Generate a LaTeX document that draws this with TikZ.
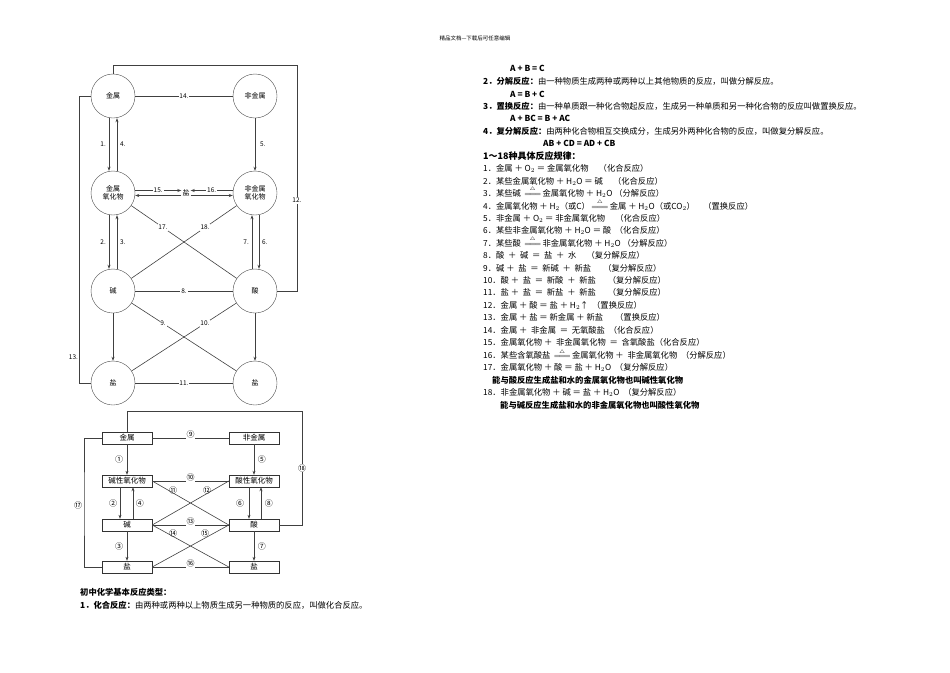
\documentclass[tikz,border=0pt]{standalone}
\usepackage{fontspec}
\setmainfont{Noto Sans CJK SC}
\usetikzlibrary{arrows.meta}
\newcommand{\heatq}{\,\smash{$\stackrel{\scriptscriptstyle\triangle}{=\!=\!=}$}\,}
\begin{document}
\begin{tikzpicture}[x=1pt,y=-1pt,
  circ/.style={circle,draw=black!70,minimum size=44pt,inner sep=0pt,font=\fontsize{7}{8}\selectfont,align=center},
  box/.style={rectangle,draw=black!80,minimum width=50pt,minimum height=12pt,inner sep=0pt,font=\fontsize{7.5}{8}\selectfont},
  ln/.style={draw=black!75,line width=0.6pt},
  arr/.style={ln,-{Stealth[length=4pt,width=3pt]}},
  lab/.style={fill=white,inner sep=0.8pt,font=\fontsize{6.5}{7}\selectfont},
  clab/.style={fill=white,inner sep=0.5pt,font=\fontsize{8}{8}\selectfont},
  txt/.style={anchor=west,inner sep=0pt,font=\fontsize{8.3}{8}\selectfont},
  btxt/.style={anchor=west,inner sep=0pt,font=\fontsize{8.3}{8}\selectfont\bfseries}]
\useasboundingbox (0,0) rectangle (950,672);
\node[font=\fontsize{5.5}{6}\selectfont] (hd) at (475,38) {精品文档---下载后可任意编辑};
% ---------- top diagram
\node[circ] (m) at (113,96) {金属};
\node[circ] (nm) at (255,96) {非金属};
\node[circ] (mo) at (113,193) {金属\\氧化物};
\node[circ] (nmo) at (255,193) {非金属\\氧化物};
\node[circ] (b) at (113,291) {碱};
\node[circ] (a) at (255,291) {酸};
\node[circ] (s1) at (113,383) {盐};
\node[circ] (s2) at (255,383) {盐};
\node[font=\fontsize{7}{8}\selectfont,inner sep=1pt] (sc) at (186,193) {盐};
\draw[ln] (m) -- node[lab]{14.} (nm);
\draw[ln] (b) -- node[lab]{8.} (a);
\draw[ln] (s1) -- node[lab]{11.} (s2);
\draw[arr] ([xshift=-4pt]m.south) -- node[lab,left=2pt,fill=none]{1.} ([xshift=-4pt]mo.north);
\draw[arr] ([xshift=4pt]mo.north) -- node[lab,right=2pt,fill=none]{4.} ([xshift=4pt]m.south);
\draw[arr] (nm) -- node[lab,right=4pt,fill=none]{5.} (nmo);
\draw[arr] ([xshift=-4pt]mo.south) -- node[lab,left=2pt,fill=none]{2.} ([xshift=-4pt]b.north);
\draw[arr] ([xshift=4pt]b.north) -- node[lab,right=2pt,fill=none]{3.} ([xshift=4pt]mo.south);
\draw[arr] ([xshift=-3pt]a.north) -- node[lab,left=2pt,fill=none]{7.} ([xshift=-3pt]nmo.south);
\draw[arr] ([xshift=4pt]nmo.south) -- node[lab,right=2pt,fill=none]{6.} ([xshift=4pt]a.north);
\draw[arr] ([yshift=2.5pt]mo.east) -- node[lab]{15.} ([yshift=2.5pt]sc.west);
\draw[arr] ([yshift=-2.5pt]sc.west) -- ([yshift=-2.5pt]mo.east);
\draw[arr] ([yshift=2.5pt]nmo.west) -- node[lab]{16.} ([yshift=2.5pt]sc.east);
\draw[arr] ([yshift=-2.5pt]sc.east) -- ([yshift=-2.5pt]nmo.west);
\draw[ln] (mo) -- node[lab,pos=0.3]{17.} (a);
\draw[ln] (nmo) -- node[lab,pos=0.3]{18.} (b);
\draw[ln] (b) -- node[lab,pos=0.3]{9.} (s2);
\draw[ln] (a) -- node[lab,pos=0.3]{10.} (s1);
\draw[arr] (b) -- (s1);
\draw[arr] (a) -- (s2);
\draw[ln] (m.north) |- (297,65) |- node[lab,pos=0.3]{12.} (a.east);
\coordinate (lc) at (79,357);
\draw[ln] (m.west) -| (79,383) -- (s1.west);
\node[lab,fill=none,left=0pt] (l13) at (lc) {13.};
% ---------- bottom diagram
\node[box] (M) at (127,438) {金属};
\node[box] (NM) at (254,438) {非金属};
\node[box] (MO) at (127,481) {碱性氧化物};
\node[box] (NMO) at (254,481) {酸性氧化物};
\node[box] (B) at (127,525) {碱};
\node[box] (A) at (254,525) {酸};
\node[box] (S1) at (127,567) {盐};
\node[box] (S2) at (254,567) {盐};
\draw[ln] (M) -- node[clab,above=-1pt]{⑨} (NM);
\draw[ln] (MO) -- node[clab,above=-1pt]{⑩} (NMO);
\draw[ln] (B) -- node[clab,above=-1pt]{⑬} (A);
\draw[ln] (S1) -- node[clab,above=-1pt]{⑯} (S2);
\draw[arr] (M) -- node[clab,left=3pt]{①} (MO);
\draw[arr] (NM) -- node[clab,right=3pt]{⑤} (NMO);
\draw[arr] ([xshift=-7pt]MO.south) -- node[clab,left=2pt]{②} ([xshift=-7pt]B.north);
\draw[arr] ([xshift=6pt]B.north) -- node[clab,right=2pt]{④} ([xshift=6pt]MO.south);
\draw[arr] ([xshift=-5pt]NMO.south) -- node[clab,left=4pt]{⑥} ([xshift=-5pt]A.north);
\draw[arr] ([xshift=7pt]A.north) -- node[clab,right=3pt]{⑧} ([xshift=7pt]NMO.south);
\draw[arr] (B) -- node[clab,left=3pt]{③} (S1);
\draw[arr] (A) -- node[clab,right=3pt]{⑦} (S2);
\draw[ln] (MO.east) -- (A.west);
\draw[ln] (NMO.west) -- (B.east);
\draw[ln] (B.east) -- (S2.west);
\draw[ln] (A.west) -- (S1.east);
\node[clab,fill=none] (c11) at (173,490) {⑪};
\node[clab,fill=none] (c12) at (207,490) {⑫};
\node[clab,fill=none] (c14) at (173,533) {⑭};
\node[clab,fill=none] (c15) at (205,533) {⑮};
\draw[ln] (M.north) |- (302,411) |- node[clab,pos=0.25]{⑱} (A.east);
\draw[ln] (M.west) -| (84,505) node[clab,left=1pt]{⑰} |- (S1.west);
% ---------- bottom-left text
\node[btxt] (h1) at (80,592) {初中化学基本反应类型：};
\node[txt] (l1) at (80,605) {\textbf{1．化合反应：}由两种或两种以上物质生成另一种物质的反应，叫做化合反应。};
% ---------- right text
\node[btxt] (r0) at (510,68) {A + B = C};
\node[txt] (r1) at (483,81) {\textbf{2．分解反应：}由一种物质生成两种或两种以上其他物质的反应，叫做分解反应。};
\node[btxt] (r2) at (510,94) {A = B + C};
\node[txt] (r3) at (483,106) {\textbf{3．置换反应：}由一种单质跟一种化合物起反应，生成另一种单质和另一种化合物的反应叫做置换反应。};
\node[btxt] (r4) at (510,118) {A + BC = B + AC};
\node[txt] (r5) at (483,131) {\textbf{4．复分解反应：}由两种化合物相互交换成分，生成另外两种化合物的反应，叫做复分解反应。};
\node[btxt] (r6) at (543,143) {AB + CD = AD + CB};
\node[btxt,font=\fontsize{9}{9}\selectfont\bfseries] (r7) at (483,156) {1～18种具体反应规律：};
\node[txt] (k1) at (483,168) {1．金属 ＋ O$_2$ ＝ 金属氧化物 \quad （化合反应）};
\node[txt] (k2) at (483,181) {2．某些金属氧化物 ＋ H$_2$O ＝ 碱 \quad （化合反应）};
\node[txt] (k3) at (483,193) {3．某些碱 \heatq 金属氧化物 ＋ H$_2$O （分解反应）};
\node[txt] (k4) at (483,206) {4．金属氧化物 ＋ H$_2$（或C）\heatq 金属 ＋ H$_2$O（或CO$_2$）\quad （置换反应）};
\node[txt] (k5) at (483,218) {5．非金属 ＋ O$_2$ ＝ 非金属氧化物 \quad （化合反应）};
\node[txt] (k6) at (483,230) {6．某些非金属氧化物 ＋ H$_2$O ＝ 酸 \ （化合反应）};
\node[txt] (k7) at (483,243) {7．某些酸 \heatq 非金属氧化物 ＋ H$_2$O （分解反应）};
\node[txt] (k8) at (483,255) {8．酸 \ ＋ \ 碱 \ ＝ \ 盐 \ ＋ \ 水 \quad （复分解反应）};
\node[txt] (k9) at (483,268) {9．碱 ＋ \ 盐 \ ＝ \ 新碱 \ ＋ \ 新盐 \quad \ （复分解反应）};
\node[txt] (k10) at (483,280) {10．酸 ＋ \ 盐 \ ＝ \ 新酸 \ ＋ \ 新盐 \quad \ （复分解反应）};
\node[txt] (k11) at (483,292) {11．盐 ＋ \ 盐 \ ＝ \ 新盐 \ ＋ \ 新盐 \quad \ （复分解反应）};
\node[txt] (k12) at (483,305) {12．金属 ＋ 酸 ＝ 盐 ＋ H$_2$↑ \ （置换反应）};
\node[txt] (k13) at (483,317) {13．金属 ＋ 盐 ＝ 新金属 ＋ 新盐 \quad \ （置换反应）};
\node[txt] (k14) at (483,330) {14．金属 ＋ \ 非金属 \ ＝ \ 无氧酸盐 \ （化合反应）};
\node[txt] (k15) at (483,342) {15．金属氧化物 ＋ \ 非金属氧化物 \ ＝ \ 含氧酸盐（化合反应）};
\node[txt] (k16) at (483,355) {16．某些含氧酸盐 \heatq 金属氧化物 ＋ \ 非金属氧化物 \ （分解反应）};
\node[txt] (k17) at (483,367) {17．金属氧化物 ＋ 酸 ＝ 盐 ＋ H$_2$O \ （复分解反应）};
\node[btxt] (k17b) at (492,380) {能与酸反应生成盐和水的金属氧化物也叫碱性氧化物};
\node[txt] (k18) at (483,392) {18．非金属氧化物 ＋ 碱 ＝ 盐 ＋ H$_2$O \ （复分解反应）};
\node[btxt] (k18b) at (500,405) {能与碱反应生成盐和水的非金属氧化物也叫酸性氧化物};
\end{tikzpicture}
\end{document}
